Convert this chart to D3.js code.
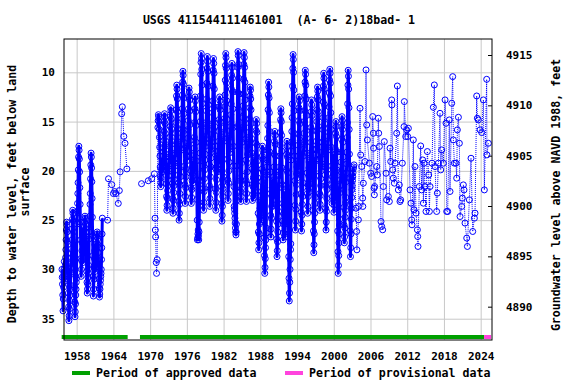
<!DOCTYPE html>
<html>
<head>
<meta charset="utf-8">
<title>USGS 411544111461001</title>
<script src="https://d3js.org/d3.v7.min.js"></script>
<style>
body { margin: 0; background: #fff; }
text { font-family: "DejaVu Sans Mono", monospace; font-weight: bold; fill: #000; }
</style>
</head>
<body>
<div id="chart"></div>
<script>

// 軸の目盛り
const xTickYears = [1958, 1964, 1970, 1976, 1982, 1988, 1994, 2000, 2006, 2012, 2018, 2024];
const depthTicks = [10, 15, 20, 25, 30, 35];
const elevTicks = [4890, 4895, 4900, 4905, 4910, 4915];

// 承認済み / 暫定データの期間 (年)
const approvedPeriods = [[1955.55, 1966.33], [1968.34, 2024.55]];
const provisionalPeriods = [[2024.55, 2025.7]];

// 半月ごとの水位 (feet below land surface)  [年, 24 個の値]
const halfMonthly1950s = [
  [1955, null, null, null, null, null, null, null, null, null, null, null, null, null, null, 30.0, 30.8, 31.5, 32.6, 34.2, 33.0, 31.8, 30.8, 30.0, 29.2],
  [1956, 31.2, 30.7, 30.2, 29.6, 28.8, 28.0, 27.0, 26.0, 25.2, 25.5, 26.2, 27.2, 28.4, 29.7, 31.0, 32.4, 33.8, 35.2, 34.7, 34.0, 33.2, 32.6, 32.0, 31.6],
  [1957, 30.5, 29.9, 29.4, 28.8, 27.9, 27.0, 25.9, 24.9, 24.0, 24.3, 25.1, 26.2, 27.5, 28.9, 30.3, 31.8, 33.3, 34.8, 34.3, 33.5, 32.6, 32.0, 31.3, 30.9],
  [1958, 25.4, 24.8, 24.1, 23.3, 22.3, 21.2, 19.9, 18.6, 17.5, 17.9, 18.8, 20.1, 21.7, 23.4, 25.2, 27.0, 28.9, 30.7, 30.0, 29.1, 28.1, 27.3, 26.5, 25.9],
  [1959, 29.3, 28.9, 28.5, 28.0, 27.4, 26.8, 26.0, 25.2, 24.6, 24.8, 25.4, 26.2, 27.1, 28.1, 29.1, 30.2, 31.3, 32.4, 32.0, 31.5, 30.8, 30.4, 29.9, 29.6],
  [1960, 26.9, 26.2, 25.5, 24.6, 23.4, 22.3, 20.8, 19.4, 18.2, 18.6, 19.7, 21.1, 22.8, 24.7, 26.6, 28.6, 30.7, 32.7, 32.0, 31.0, 29.8, 28.9, 28.1, 27.5],
  [1961, 30.2, 29.8, 29.5, 29.1, 28.6, 28.0, 27.4, 26.7, 26.2, 26.4, 26.9, 27.5, 28.3, 29.2, 30.0, 31.0, 31.9, 32.8, 32.5, 32.0, 31.5, 31.1, 30.7, 30.4],
  [1962, 30.0, 29.0, 27.8, 26.4, 24.8, null, null, null, null, null, null, null, null, null, null, null, null, null, null, null, null, null, null, null]
];

const halfMonthly1970s = [
  [1971, null, null, null, null, null, null, 15.6, 14.9, 14.3, 14.5, 15.0, 15.8, 16.6, 17.6, 18.5, 19.6, 20.6, 21.6, 21.2, 20.7, 20.1, 19.7, 19.3, 19.0],
  [1972, 20.1, 19.6, 19.1, 18.5, 17.7, 16.9, 16.0, 15.0, 14.2, 14.5, 15.2, 16.2, 17.3, 18.6, 19.9, 21.3, 22.6, 24.0, 23.5, 22.8, 22.0, 21.5, 20.9, 20.5],
  [1973, 20.0, 19.5, 19.0, 18.3, 17.5, 16.6, 15.5, 14.5, 13.6, 13.9, 14.7, 15.7, 17.0, 18.4, 19.8, 21.3, 22.8, 24.3, 23.8, 23.0, 22.2, 21.5, 20.9, 20.4],
  [1974, 19.5, 18.8, 18.2, 17.3, 16.2, 15.1, 13.8, 12.4, 11.3, 11.7, 12.7, 14.0, 15.7, 17.5, 19.2, 21.2, 23.1, 25.0, 24.3, 23.4, 22.3, 21.4, 20.6, 20.1],
  [1975, 17.9, 17.3, 16.6, 15.8, 14.7, 13.7, 12.3, 11.0, 9.9, 10.3, 11.2, 12.6, 14.2, 15.9, 17.7, 19.5, 21.4, 23.3, 22.6, 21.7, 20.6, 19.8, 19.0, 18.5],
  [1976, 18.6, 18.0, 17.5, 16.7, 15.8, 14.9, 13.7, 12.5, 11.6, 12.0, 12.8, 13.9, 15.3, 16.9, 18.4, 20.0, 21.7, 23.3, 22.7, 21.9, 21.0, 20.3, 19.6, 19.1],
  [1977, 21.2, 20.5, 19.8, 18.9, 17.7, 16.6, 15.1, 13.7, 12.5, 12.9, 14.0, 15.4, 17.1, 19.0, 20.9, 22.9, 25.0, 27.0, 26.8, 26.4, 26.0, 26.6, 27.0, 26.2],
  [1978, 25.2, 23.5, 21.0, 18.2, 15.0, 12.4, 10.2, 9.0, 8.1, 8.6, 9.7, 11.3, 13.2, 15.3, 17.3, 19.5, 21.8, 24.0, 23.2, 22.1, 20.8, 19.9, 18.9, 18.3],
  [1979, 17.5, 16.8, 16.0, 15.1, 13.9, 12.7, 11.1, 9.6, 8.4, 8.9, 9.9, 11.4, 13.3, 15.2, 17.2, 19.3, 21.5, 23.6, 22.8, 21.8, 20.6, 19.6, 18.7, 18.1]
];

const halfMonthly1980s = [
  [1980, 17.8, 17.1, 16.3, 15.4, 14.1, 12.9, 11.4, 9.8, 8.6, 9.1, 10.1, 11.7, 13.5, 15.5, 17.5, 19.7, 21.8, 24.0, 23.2, 22.2, 20.9, 20.0, 19.1, 18.5],
  [1981, 20.1, 19.4, 18.8, 18.0, 17.0, 16.0, 14.8, 13.5, 12.5, 12.9, 13.8, 15.0, 16.5, 18.2, 19.8, 21.6, 23.3, 25.1, 24.5, 23.6, 22.6, 21.8, 21.1, 20.6],
  [1982, 17.0, 16.3, 15.6, 14.7, 13.5, 12.3, 10.8, 9.3, 8.1, 8.5, 9.6, 11.1, 12.9, 14.8, 16.7, 18.8, 20.9, 23.0, 22.3, 21.2, 20.0, 19.1, 18.2, 17.6],
  [1983, 17.8, 17.1, 16.4, 15.5, 14.3, 13.2, 11.7, 10.3, 9.1, 9.5, 10.6, 12.0, 13.7, 15.6, 17.5, 19.5, 21.6, 23.6, 23.9, 24.3, 24.8, 25.3, 25.8, 26.2],
  [1984, 26.5, 26.2, 25.4, 23.0, 19.5, 15.5, 12.0, 9.5, 7.9, 8.3, 9.2, 10.6, 12.2, 14.0, 15.8, 17.6, 19.4, 21.0, 22.1, 23.1, 22.6, 21.8, 21.0, 20.5],
  [1985, 17.1, 16.3, 15.6, 14.6, 13.4, 12.2, 10.7, 9.2, 8.0, 8.5, 9.5, 11.0, 12.8, 14.8, 16.8, 18.9, 21.0, 23.1, 22.3, 21.3, 20.1, 19.2, 18.3, 17.7],
  [1986, 18.4, 17.8, 17.3, 16.6, 15.6, 14.7, 13.6, 12.4, 11.5, 11.8, 12.7, 13.8, 15.2, 16.7, 18.2, 19.8, 21.4, 23.0, 22.4, 21.6, 20.7, 20.0, 19.3, 18.9],
  [1987, 22.7, 22.1, 21.4, 20.6, 19.6, 18.5, 17.2, 15.9, 14.8, 15.2, 16.1, 17.4, 19.0, 20.7, 22.5, 24.3, 26.2, 28.0, 27.3, 26.4, 25.4, 24.6, 23.8, 23.2],
  [1988, 25.2, 24.6, 24.0, 23.2, 22.1, 21.1, 19.8, 18.5, 17.5, 17.9, 18.8, 20.1, 21.6, 23.3, 25.0, 26.8, 28.6, 30.4, 29.8, 28.9, 27.8, 27.0, 26.3, 25.8],
  [1989, 20.4, 19.6, 18.9, 17.9, 16.7, 15.4, 13.8, 12.3, 11.0, 11.5, 12.6, 14.1, 16.0, 18.1, 20.1, 22.3, 24.5, 26.7, 25.9, 24.8, 23.6, 22.6, 21.7, 21.0]
];

const halfMonthly1990s = [
  [1990, 23.6, 23.0, 22.4, 21.6, 20.6, 19.6, 18.3, 17.0, 16.0, 16.4, 17.3, 18.5, 20.1, 21.7, 23.4, 25.1, 26.9, 28.7, 28.1, 27.2, 26.2, 25.4, 24.6, 24.1],
  [1991, 21.7, 21.0, 20.4, 19.6, 18.5, 17.4, 16.1, 14.8, 13.7, 14.1, 15.0, 16.4, 18.0, 19.7, 21.4, 23.3, 25.1, 27.0, 26.3, 25.4, 24.3, 23.5, 22.7, 22.2],
  [1992, 26.7, 25.9, 25.1, 24.1, 22.8, 21.5, 19.9, 18.3, 17.0, 17.5, 18.6, 20.2, 22.2, 24.3, 26.4, 28.7, 30.9, 33.2, 32.4, 31.3, 30.0, 29.0, 28.0, 27.4],
  [1993, 18.9, 18.0, 17.1, 16.0, 14.6, 13.2, 11.4, 9.6, 8.2, 8.7, 10.0, 11.8, 13.9, 16.2, 18.5, 21.0, 23.5, 26.0, 25.1, 23.9, 22.4, 21.4, 20.3, 19.6],
  [1994, 20.7, 20.0, 19.3, 18.5, 17.4, 16.3, 14.9, 13.6, 12.5, 12.9, 13.9, 15.2, 16.9, 18.6, 20.4, 22.3, 24.2, 26.1, 25.4, 24.5, 23.4, 22.6, 21.7, 21.2],
  [1995, 18.5, 17.8, 17.1, 16.2, 15.0, 13.9, 12.4, 11.0, 9.8, 10.2, 11.3, 12.7, 14.4, 16.3, 18.2, 20.2, 22.3, 24.3, 23.6, 22.6, 21.4, 20.5, 19.7, 19.1],
  [1996, 22.1, 21.3, 20.6, 19.6, 18.4, 17.1, 15.6, 14.0, 12.8, 13.3, 14.4, 15.9, 17.8, 19.8, 21.8, 24.0, 26.1, 28.3, 27.5, 26.4, 25.2, 24.3, 23.3, 22.7],
  [1997, 19.0, 18.4, 17.8, 17.0, 16.0, 15.0, 13.8, 12.5, 11.5, 11.9, 12.8, 14.0, 15.5, 17.1, 18.8, 20.5, 22.3, 24.0, 23.4, 22.5, 21.5, 20.8, 20.0, 19.5],
  [1998, 19.6, 18.8, 18.1, 17.1, 15.8, 14.6, 13.0, 11.4, 10.1, 10.6, 11.7, 13.3, 15.2, 17.3, 19.3, 21.5, 23.8, 26.0, 25.2, 24.1, 22.8, 21.9, 20.9, 20.3],
  [1999, 17.9, 17.2, 16.5, 15.7, 14.6, 13.5, 12.1, 10.8, 9.7, 10.1, 11.1, 12.4, 14.1, 15.8, 17.6, 19.5, 21.4, 23.3, 22.6, 21.7, 20.6, 19.8, 18.9, 18.4]
];

const halfMonthly2000s = [
  [2000, 24.2, 23.5, 22.7, 21.8, 20.5, 19.3, 17.8, 16.2, 15.0, 15.5, 16.5, 18.1, 19.9, 21.9, 23.9, 26.1, 28.2, 30.4, 29.6, 28.6, 27.3, 26.4, 25.5, 24.9],
  [2001, 22.2, 21.5, 20.9, 20.1, 19.1, 18.1, 16.8, 15.5, 14.5, 14.9, 15.8, 17.1, 18.6, 20.3, 21.9, 23.7, 25.5, 27.3, 26.7, 25.8, 24.7, 24.0, 23.2, 22.7],
  [2002, 21.1, 20.2, 19.3, 18.1, 16.6, 15.1, 13.2, 11.3, 9.8, 10.4, 11.7, 13.6, 15.8, 18.3, 20.8, 23.4, 26.1, 28.7, 27.8, 26.4, 24.9, 23.8, 22.7, 21.9],
  [2003, 21.5, 21.0, 20.6, 20.2, 19.8, 19.6, null, null, null, null, null, null, null, null, null, null, null, null, null, null, null, null, null, null]
];

// 間隔の空いた測定 [年, 水位]
const sparse1960s = [
  [1963.05, 25.0], [1963.2, 20.8], [1963.74, 21.4], [1964.0, 22.3], [1964.2, 22.1],
  [1964.4, 22.3], [1964.8, 23.3], [1964.97, 22.0], [1965.1, 20.1], [1965.35, 14.2],
  [1965.46, 13.5], [1965.7, 16.5], [1965.9, 17.2], [1966.2, 19.8],
  [1968.6, 21.3], [1969.7, 21.0], [1970.25, 20.8], [1970.7, 20.3], [1970.8, 24.8],
  [1970.85, 26.0], [1970.9, 26.7], [1971.0, 29.3], [1971.05, 30.4], [1971.15, 29.0]
];

const sparseRecent = [
  [2003.31, 19.39], [2003.63, 23.78], [2003.74, 26.15], [2003.78, 28.01], [2004.02, 24.97],
  [2004.06, 23.61], [2004.29, 13.65], [2004.40, 18.38], [2004.56, 19.56], [2004.72, 22.77],
  [2004.75, 23.61], [2004.83, 21.25], [2005.10, 19.05], [2005.27, 9.76], [2005.38, 15.34],
  [2005.49, 16.86], [2005.81, 19.22], [2006.03, 20.24], [2006.19, 20.57], [2006.36, 14.49],
  [2006.47, 16.18], [2006.50, 17.70], [2006.58, 21.76], [2006.63, 22.43], [2006.68, 21.59],
  [2007.01, 19.56], [2007.12, 20.41], [2007.28, 14.66], [2007.34, 16.18], [2007.45, 17.53],
  [2007.72, 25.14], [2007.83, 25.64], [2007.99, 25.98], [2008.10, 21.59], [2008.26, 17.03],
  [2008.54, 20.24], [2008.64, 22.94], [2008.92, 22.60], [2009.08, 23.11], [2009.19, 17.70],
  [2009.30, 19.05], [2009.46, 12.80], [2009.50, 13.31], [2009.63, 19.90], [2009.73, 20.74],
  [2009.90, 21.25], [2010.01, 19.22], [2010.28, 16.18], [2010.39, 11.39], [2010.55, 21.93],
  [2010.71, 21.42], [2010.82, 23.11], [2010.93, 22.94], [2011.20, 19.22], [2011.48, 15.51],
  [2011.53, 12.97], [2011.75, 16.52], [2011.91, 15.84], [2012.08, 16.52], [2012.19, 15.68],
  [2012.46, 21.93], [2012.62, 23.28], [2012.73, 24.97], [2012.78, 25.47], [2013.00, 16.86],
  [2013.11, 23.95], [2013.27, 19.56], [2013.44, 24.29], [2013.66, 25.98], [2013.71, 26.66],
  [2013.76, 27.67], [2013.98, 21.59], [2014.20, 17.47], [2014.36, 21.93], [2014.53, 18.89],
  [2014.64, 23.28], [2014.75, 19.22], [2014.91, 21.59], [2015.07, 24.12], [2015.29, 18.04],
  [2015.51, 20.41], [2015.62, 24.12], [2015.73, 21.59], [2016.05, 19.22], [2016.27, 13.55],
  [2016.43, 11.28], [2016.54, 19.56], [2016.81, 24.12], [2016.92, 22.26], [2017.09, 19.22],
  [2017.36, 14.16], [2017.47, 19.90], [2017.63, 17.87], [2017.90, 19.22], [2018.18, 12.80],
  [2018.34, 15.17], [2018.45, 24.12], [2018.61, 24.12], [2018.88, 14.83], [2018.99, 22.09],
  [2019.27, 13.14], [2019.43, 10.44], [2019.54, 16.86], [2019.70, 19.22], [2019.97, 19.22],
  [2020.08, 20.74], [2020.19, 15.84], [2020.36, 14.56], [2020.52, 17.20], [2020.63, 24.63],
  [2020.90, 23.61], [2021.01, 22.77], [2021.17, 21.42], [2021.28, 21.93], [2021.44, 25.30],
  [2021.72, 26.82], [2021.83, 27.67], [2022.15, 22.94], [2022.42, 18.72], [2022.70, 26.15],
  [2022.97, 24.80], [2023.08, 24.29], [2023.35, 12.40], [2023.46, 14.66], [2023.62, 14.83],
  [2023.90, 15.84], [2024.17, 16.11], [2024.44, 12.80], [2024.60, 21.93], [2024.98, 10.71],
  [2025.02, 18.38], [2025.26, 17.20]
];

// SVG 領域
const width = 576;
const height = 384;
const plot = { left: 64, right: 492, top: 39, bottom: 340 };

const x = d3.scaleLinear().domain([1955.93, 2025.85]).range([plot.left, plot.right]);
const y = d3.scaleLinear().domain([6.62, 37.16]).range([plot.top, plot.bottom]);
const yRight = d3.scaleLinear().domain([4916.59, 4886.69]).range([plot.top, plot.bottom]);

// データの前処理 (半月ごとの行 -> 点)
function rowsToPoints(rows) {
  const pts = [];
  rows.forEach(r => {
    const n = r.length - 1;
    for (let i = 0; i < n; i++) {
      const v = r[i + 1];
      if (v != null) pts.push({ t: r[0] + (i + 0.5) / n, d: v, dense: true });
    }
  });
  return pts;
}

let points = []
  .concat(rowsToPoints(halfMonthly1950s))
  .concat(rowsToPoints(halfMonthly1970s))
  .concat(rowsToPoints(halfMonthly1980s))
  .concat(rowsToPoints(halfMonthly1990s))
  .concat(rowsToPoints(halfMonthly2000s))
  .concat(sparse1960s.map(p => ({ t: p[0], d: p[1], dense: false })))
  .concat(sparseRecent.map(p => ({ t: p[0], d: p[1], dense: false })));
points.sort((a, b) => a.t - b.t);

// 線を切る: 全体は2年以上の空白, 密な区間は連続した半月データのみ
function splitRuns(pts, maxGap) {
  const runs = [];
  let cur = [];
  pts.forEach((p, i) => {
    if (i > 0 && p.t - pts[i - 1].t > maxGap) { runs.push(cur); cur = []; }
    cur.push(p);
  });
  if (cur.length) runs.push(cur);
  return runs;
}
const segments = splitRuns(points, 2);
const denseRuns = splitRuns(points.filter(p => p.dense), 0.2);

const svg = d3.select("#chart").append("svg")
  .attr("width", width)
  .attr("height", height)
  .style("background", "#fff");

// グリッド + 軸
const gridColor = "#c8c8c8";

const xAxis = svg.append("g")
  .attr("transform", `translate(0,${plot.bottom})`)
  .call(d3.axisBottom(x).tickValues(xTickYears).tickFormat(d3.format("d"))
    .tickSize(-(plot.bottom - plot.top)).tickPadding(12));
xAxis.select(".domain").remove();
xAxis.selectAll("line").attr("stroke", gridColor);
xAxis.selectAll("text").style("font-size", "11px");

const yAxis = svg.append("g")
  .attr("transform", `translate(${plot.left},0)`)
  .call(d3.axisLeft(y).tickValues(depthTicks)
    .tickSize(-(plot.right - plot.left)).tickPadding(9));
yAxis.select(".domain").remove();
yAxis.selectAll("line").attr("stroke", gridColor);
yAxis.selectAll("text").style("font-size", "11px");

const yAxisR = svg.append("g")
  .attr("transform", `translate(${plot.right},0)`)
  .call(d3.axisRight(yRight).tickValues(elevTicks).tickFormat(d3.format("d"))
    .tickSize(-4).tickPadding(14));
yAxisR.select(".domain").remove();
yAxisR.selectAll("line").attr("stroke", "#000");
yAxisR.selectAll("text").style("font-size", "11px");

// 期間バー
const barY = 337;
svg.selectAll(".approved").data(approvedPeriods).enter()
  .append("line")
  .attr("x1", d => x(d[0])).attr("x2", d => x(d[1]))
  .attr("y1", barY).attr("y2", barY)
  .attr("stroke", "#00a000").attr("stroke-width", 4);
svg.selectAll(".provisional").data(provisionalPeriods).enter()
  .append("line")
  .attr("x1", d => x(d[0])).attr("x2", d => x(d[1]))
  .attr("y1", barY).attr("y2", barY)
  .attr("stroke", "#ff44dd").attr("stroke-width", 4);

// 点線
const line = d3.line().x(p => x(p.t)).y(p => y(p.d));
svg.selectAll(".seg").data(segments).enter()
  .append("path")
  .attr("d", line)
  .attr("fill", "none")
  .attr("stroke", "#0000ff")
  .attr("stroke-width", 1)
  .attr("stroke-dasharray", "1,1");

// 密な測定区間 (重なって塗りつぶしに見える)
svg.selectAll(".dense").data(denseRuns).enter()
  .append("path")
  .attr("d", line)
  .attr("fill", "none")
  .attr("stroke", "#0000ff")
  .attr("stroke-width", 3)
  .attr("stroke-linejoin", "round");

// 丸
svg.selectAll(".pt").data(points).enter()
  .append("circle")
  .attr("cx", p => x(p.t))
  .attr("cy", p => y(p.d))
  .attr("r", 3)
  .attr("fill", "none")
  .attr("stroke", "#0000ff")
  .attr("stroke-width", 1);

// 枠
svg.append("rect")
  .attr("x", plot.left).attr("y", plot.top)
  .attr("width", plot.right - plot.left).attr("height", plot.bottom - plot.top)
  .attr("fill", "none").attr("stroke", "#000").attr("stroke-width", 1);

// タイトル
svg.append("text")
  .attr("x", 279).attr("y", 24)
  .attr("text-anchor", "middle")
  .style("font-size", "11.6px")
  .style("white-space", "pre")
  .text("USGS 411544111461001  (A- 6- 2)18bad- 1");

// 左軸ラベル
svg.append("text")
  .attr("transform", "translate(12,194) rotate(-90)")
  .attr("text-anchor", "middle").attr("dy", "0.35em")
  .style("font-size", "11.6px")
  .text("Depth to water level, feet below land");
svg.append("text")
  .attr("transform", "translate(25,192) rotate(-90)")
  .attr("text-anchor", "middle").attr("dy", "0.35em")
  .style("font-size", "11.6px")
  .text("surface");

// 右軸ラベル
svg.append("text")
  .attr("transform", "translate(556,195) rotate(-90)")
  .attr("text-anchor", "middle").attr("dy", "0.35em")
  .style("font-size", "11.6px")
  .text("Groundwater level above NAVD 1988, feet");

// 凡例
const legendY = 373;
svg.append("line").attr("x1", 72).attr("x2", 90).attr("y1", legendY).attr("y2", legendY)
  .attr("stroke", "#00a000").attr("stroke-width", 4);
svg.append("text").attr("x", 96).attr("y", legendY).attr("dy", "0.35em")
  .style("font-size", "11.6px").text("Period of approved data");
svg.append("line").attr("x1", 285).attr("x2", 303).attr("y1", legendY).attr("y2", legendY)
  .attr("stroke", "#ff44dd").attr("stroke-width", 4);
svg.append("text").attr("x", 309).attr("y", legendY).attr("dy", "0.35em")
  .style("font-size", "11.6px").text("Period of provisional data");

</script>
</body>
</html>
